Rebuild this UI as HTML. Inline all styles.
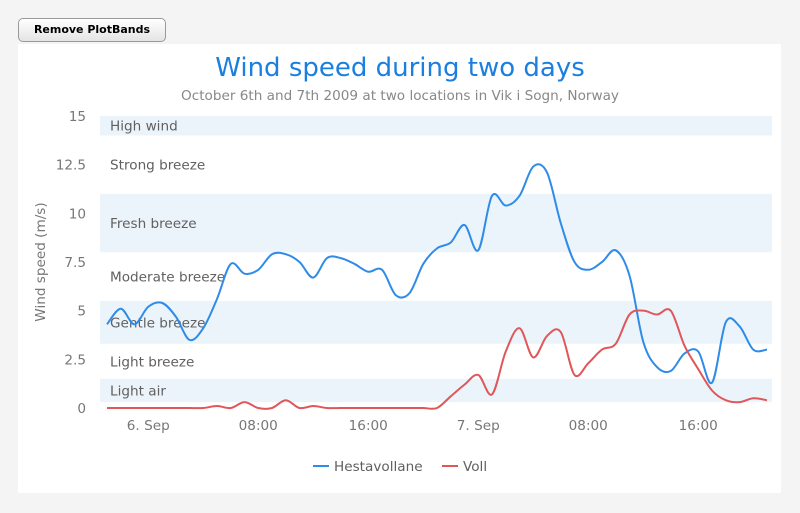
<!DOCTYPE html>
<html><head><meta charset="utf-8"><style>
body{margin:0;background:#f4f4f4;font-family:"DejaVu Sans","Liberation Sans",sans-serif;}
#wrap{position:relative;width:800px;height:513px;overflow:hidden;}
#btn{position:absolute;left:18px;top:18px;width:148px;height:24px;border:1px solid #999;border-radius:5px;background:linear-gradient(#fff,#e4e4e4);font:bold 11px "DejaVu Sans",sans-serif;color:#000;text-align:center;line-height:22px;box-sizing:border-box;}
#card{position:absolute;left:18px;top:44px;width:763px;height:449px;background:#fff;}
svg{position:absolute;left:0;top:0;}
</style></head><body>
<div id="wrap">
<div id="btn">Remove PlotBands</div>
<div id="card"></div>
<svg id="chart" width="800" height="513"></svg>
</div>
<script>
const hestavollane=[4.3,5.1,4.3,5.2,5.4,4.7,3.5,4.1,5.6,7.4,6.9,7.1,7.9,7.9,7.5,6.7,7.7,7.7,7.4,7.0,7.1,5.8,5.9,7.4,8.2,8.5,9.4,8.1,10.9,10.4,10.9,12.4,12.1,9.5,7.5,7.1,7.5,8.1,6.8,3.4,2.1,1.9,2.8,2.9,1.3,4.4,4.2,3.0,3.0];
const voll=[0.0,0.0,0.0,0.0,0.0,0.0,0.0,0.0,0.1,0.0,0.3,0.0,0.0,0.4,0.0,0.1,0.0,0.0,0.0,0.0,0.0,0.0,0.0,0.0,0.0,0.6,1.2,1.7,0.7,2.9,4.1,2.6,3.7,3.9,1.7,2.3,3.0,3.3,4.8,5.0,4.8,5.0,3.2,2.0,0.9,0.4,0.3,0.5,0.4];
const yTicks=[0,2.5,5,7.5,10,12.5,15];
const yTickLabels=["0","2.5","5","7.5","10","12.5","15"];
const xTickIdx=[3,11,19,27,35,43];
const xTickLabels=["6. Sep","08:00","16:00","7. Sep","08:00","16:00"];
const bandFrom=[0.3,1.5,3.3,5.5,8,11,14];
const bandTo=[1.5,3.3,5.5,8,11,14,15];
const bandLabels=["Light air","Light breeze","Gentle breeze","Moderate breeze","Fresh breeze","Strong breeze","High wind"];
const bandShaded=[true,false,true,false,true,false,true];

const svg=document.getElementById('chart');
const NS='http://www.w3.org/2000/svg';
const X=i=>107+i*13.75;
const Y=v=>408-v*(292/15);
function mk(tag,attrs,txt){const e=document.createElementNS(NS,tag);for(const k in attrs)e.setAttribute(k,attrs[k]);if(txt!==undefined)e.textContent=txt;svg.appendChild(e);return e;}

bandFrom.forEach((f,i)=>{
  if(bandShaded[i]){
    const r=mk('rect',{x:100,y:Y(bandTo[i]),width:672,height:Y(bandFrom[i])-Y(bandTo[i]),fill:'#ebf4fb'});
    
    
  }
});
bandFrom.forEach((f,i)=>{
  const t=mk('text',{x:110,y:(Y(bandFrom[i])+Y(bandTo[i]))/2+5,'font-size':13.6,fill:'#606060'},bandLabels[i]);
  
  
});
yTicks.forEach((v,i)=>{
  const t=mk('text',{x:86,y:Y(v)+5,'font-size':13.6,fill:'#777','text-anchor':'end'},yTickLabels[i]);
  
  
});
xTickIdx.forEach((idx,i)=>{
  const t=mk('text',{x:X(idx),y:430,'font-size':13.6,fill:'#777','text-anchor':'middle'},xTickLabels[i]);
  
  
});
const yt=mk('text',{x:0,y:0,'font-size':13.6,fill:'#777','text-anchor':'middle',transform:'translate(45,262) rotate(-90)'},'Wind speed (m/s)');


const tt=mk('text',{x:400,y:76,'font-size':26,fill:'#1a7fe0','text-anchor':'middle'},'Wind speed during two days');


const st=mk('text',{x:400,y:100,'font-size':13.6,fill:'#888','text-anchor':'middle'},'October 6th and 7th 2009 at two locations in Vik i Sogn, Norway');



function spline(data){
  const p=data.map((v,i)=>[X(i),Y(v)]);
  let d='M'+p[0][0]+','+p[0][1];
  for(let i=0;i<p.length-1;i++){
    const p0=p[i-1]||p[i],p1=p[i],p2=p[i+1],p3=p[i+2]||p[i+1];
    const c1=[p1[0]+(p2[0]-p0[0])/6,p1[1]+(p2[1]-p0[1])/6];
    const c2=[p2[0]-(p3[0]-p1[0])/6,p2[1]-(p3[1]-p1[1])/6];
    d+=`C${c1[0]},${c1[1]} ${c2[0]},${c2[1]} ${p2[0]},${p2[1]}`;
  }
  return d;
}
const l1=mk('path',{d:spline(hestavollane),fill:'none',stroke:'#2f8be8','stroke-width':2});


const l2=mk('path',{d:spline(voll),fill:'none',stroke:'#e0575a','stroke-width':2});



[[313,'#2f8be8','Hestavollane','legend-hestavollane'],[442,'#e0575a','Voll','legend-voll']].forEach(([x,c,n,nm])=>{
  const g=document.createElementNS(NS,'g');svg.appendChild(g);
  
  
  const ln=document.createElementNS(NS,'line');
  ln.setAttribute('x1',x);ln.setAttribute('x2',x+16);ln.setAttribute('y1',466);ln.setAttribute('y2',466);
  ln.setAttribute('stroke',c);ln.setAttribute('stroke-width',2);g.appendChild(ln);
  const t=document.createElementNS(NS,'text');
  t.setAttribute('x',x+21);t.setAttribute('y',471);t.setAttribute('font-size',13.6);t.setAttribute('fill','#606060');
  t.textContent=n;g.appendChild(t);
});
</script>
</body></html>
